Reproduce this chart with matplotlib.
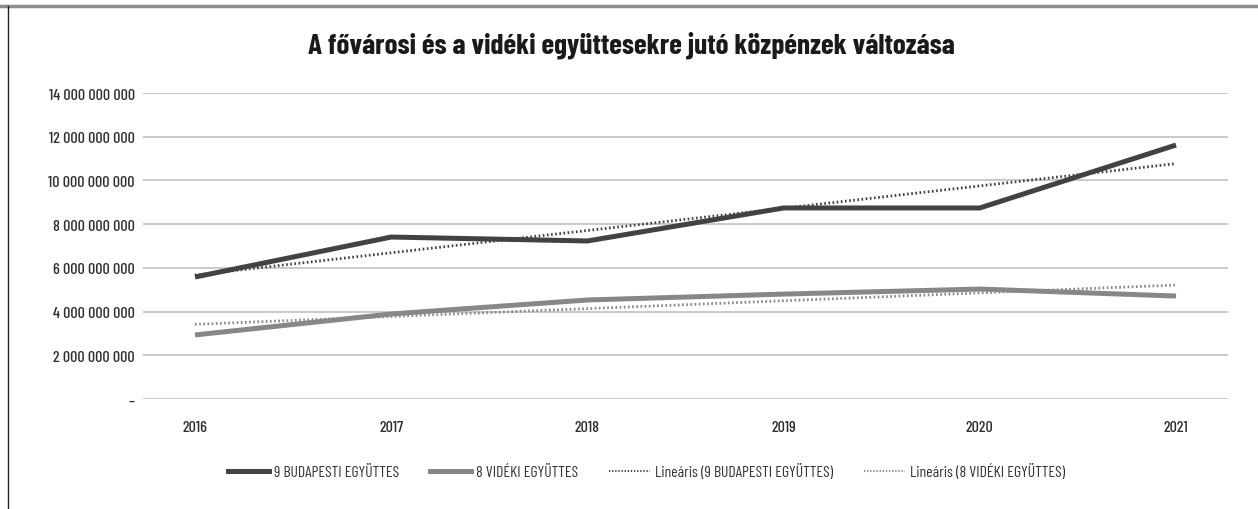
import numpy as np
import matplotlib
matplotlib.use("Agg")
import matplotlib.pyplot as plt
from matplotlib.ticker import FuncFormatter, MultipleLocator
from matplotlib.lines import Line2D

years = ["2016", "2017", "2018", "2019", "2020", "2021"]
budapest = [5.58e9, 7.41e9, 7.23e9, 8.74e9, 8.74e9, 11.62e9]
videki = [2.93e9, 3.89e9, 4.53e9, 4.80e9, 5.03e9, 4.71e9]
series_labels = ["9 BUDAPESTI EGYÜTTES", "8 VIDÉKI EGYÜTTES",
                 "Lineáris (9 BUDAPESTI EGYÜTTES)", "Lineáris (8 VIDÉKI EGYÜTTES)"]
title = "A fővárosi és a vidéki együttesekre jutó közpénzek változása"

FONT = ["Barlow Condensed", "DejaVu Sans"]
plt.rcParams["font.family"] = FONT

fig = plt.figure(figsize=(12.58, 5.10), dpi=100)
ax = fig.add_axes([143/1258, 110/510, (1228-143)/1258, 0.6])

x = np.arange(len(years))
c_bp = "#424242"
c_vid = "#878787"

for yv in range(0, 15, 2):
    ax.axhline(yv * 1e9, color="#c6c6c6", lw=1.3, zorder=0)

ax.plot(x, budapest, color=c_bp, lw=3.6, solid_capstyle="butt", zorder=3)
ax.plot(x, videki, color=c_vid, lw=3.6, solid_capstyle="butt", zorder=3)

pb = np.polyfit(x, budapest, 1)
pv = np.polyfit(x, videki, 1)
dots = (0, (0.6, 0.9))
ax.plot(x, np.polyval(pb, x), color=c_bp, lw=2.0, ls=dots, zorder=4)
ax.plot(x, np.polyval(pv, x), color=c_vid, lw=2.0, ls=dots, zorder=4)

ax.set_xlim(-0.265, 5.265)
ax.set_ylim(0, 14e9)
ax.set_xticks(x)
ax.set_xticklabels(years)
ax.yaxis.set_major_locator(MultipleLocator(2e9))

def fmt(v, pos):
    if abs(v) < 1:
        return "–"
    return f"{int(round(v)):,}".replace(",", " ")

ax.yaxis.set_major_formatter(FuncFormatter(fmt))
for s in ax.spines.values():
    s.set_visible(False)
ax.tick_params(axis="both", length=0, labelsize=11.5, labelcolor="#2e2e2e")
ax.tick_params(axis="y", pad=6)
ax.tick_params(axis="x", pad=15)
for lab in ax.get_xticklabels() + ax.get_yticklabels():
    lab.set_fontweight("medium")

fig.text(0.502, 0.912, title, ha="center", va="center", fontsize=21,
         fontweight="bold", color="#1a1a1a")

handles = [
    Line2D([], [], color=c_bp, lw=3.6),
    Line2D([], [], color=c_vid, lw=3.6),
    Line2D([], [], color=c_bp, lw=1.5, ls=dots),
    Line2D([], [], color=c_vid, lw=1.5, ls=dots),
]
leg = fig.legend(handles, series_labels, loc="center", bbox_to_anchor=(0.514, 0.074),
                 ncol=4, frameon=False, fontsize=11.3, handlelength=2.6, handletextpad=0.3,
                 columnspacing=2.0, labelcolor="#333333")

fig.add_artist(Line2D([0, 1], [1 - 7/510, 1 - 7/510], transform=fig.transFigure,
                      color="#8c8c8c", lw=2.5))
fig.add_artist(Line2D([8/1258, 8/1258], [0, 1 - 7/510], transform=fig.transFigure,
                      color="#222222", lw=1.0))

fig.savefig("out.png", dpi=100, facecolor="white")
